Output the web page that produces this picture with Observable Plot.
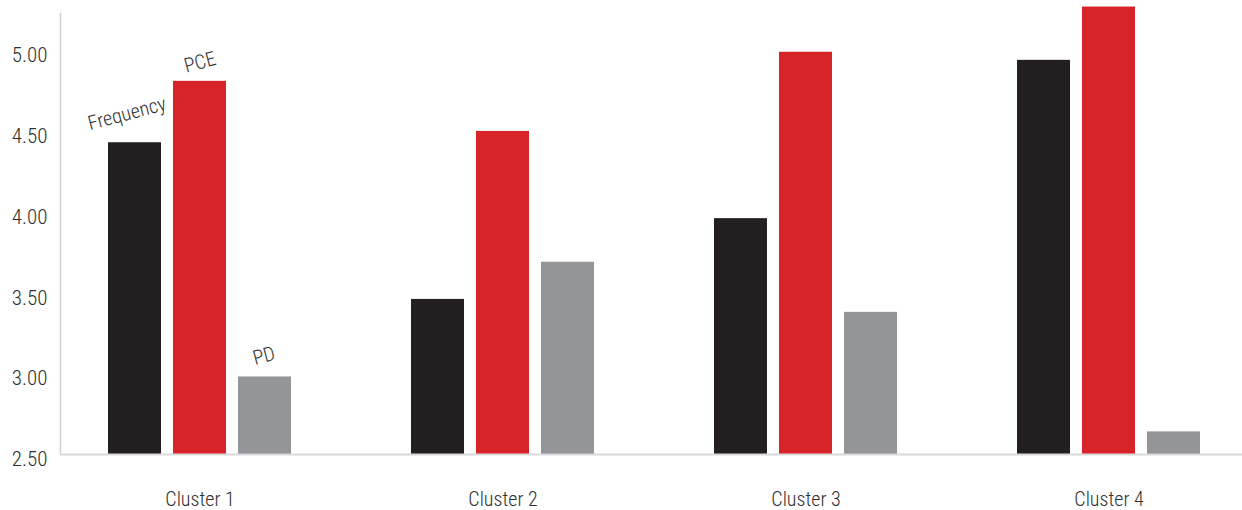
<!DOCTYPE html>
<html>
<head>
<meta charset="utf-8">
<script src="https://cdn.jsdelivr.net/npm/d3@7"></script>
<script src="https://cdn.jsdelivr.net/npm/@observablehq/plot@0.6"></script>
<style>
  html, body { margin: 0; padding: 0; background: #ffffff; }
  #chart { width: 1242px; height: 510px; }
</style>
</head>
<body>
<div id="chart"></div>
<script>
// ---- data ----
const clusters = ["Cluster 1", "Cluster 2", "Cluster 3", "Cluster 4"];
const seriesNames = ["Frequency", "PCE", "PD"];
const frequency = [4.43, 3.46, 3.96, 4.94];
const pce = [4.81, 4.50, 4.99, 5.27];
const pd = [2.98, 3.69, 3.38, 2.64];
const yTicks = [2.5, 3.0, 3.5, 4.0, 4.5, 5.0];
const yMin = 2.5;
const yMax = 5.23;

const colors = {Frequency: "#231f20", PCE: "#d62428", PD: "#939598"};
const valuesBySeries = {Frequency: frequency, PCE: pce, PD: pd};

const rows = [];
seriesNames.forEach(s => clusters.forEach((c, i) => rows.push({cluster: c, series: s, value: valuesBySeries[s][i]})));

// bar placement inside each cluster band (pixels)
const inset = {
  Frequency: {insetLeft: 0, insetRight: 130},
  PCE: {insetLeft: 65, insetRight: 65},
  PD: {insetLeft: 130, insetRight: 0}
};
const labelOffset = {
  Frequency: {dx: -73, dy: -29},
  PCE: {dx: 0, dy: -19},
  PD: {dx: 64, dy: -21}
};

const font = "'Liberation Sans Narrow', 'Arial Narrow', 'Roboto Condensed', Roboto, sans-serif";
const textColor = "#2f2f2f";

const marks = [];
seriesNames.forEach(s => {
  marks.push(Plot.barY(rows.filter(d => d.series === s), {
    x: "cluster", y1: () => yMin, y2: "value", fill: colors[s], ...inset[s]
  }));
});
seriesNames.forEach(s => {
  marks.push(Plot.text(rows.filter(d => d.series === s && d.cluster === clusters[0]), {
    x: "cluster", y: "value", text: "series", rotate: -15,
    fontSize: 20, fontWeight: 300, fill: textColor, ...labelOffset[s]
  }));
});
marks.push(Plot.frame({anchor: "left", stroke: "#d0d0d0", strokeWidth: 1.5}));
marks.push(Plot.ruleY([yMin], {stroke: "#d9d9d9", strokeWidth: 2}));
marks.push(Plot.axisY({ticks: yTicks, tickFormat: d3.format(".2f"), tickSize: 0, tickPadding: 13, dy: 5, fontSize: 21, fontWeight: 300, fill: textColor, label: null}));
marks.push(Plot.axisX({tickSize: 0, tickPadding: 37, fontSize: 20, fontWeight: 300, fill: textColor, label: null}));

const chart = Plot.plot({
  width: 1242,
  height: 510,
  marginLeft: 60,
  marginRight: 0,
  marginTop: 13,
  marginBottom: 56,
  style: {fontFamily: font, background: "#ffffff", color: textColor},
  x: {domain: clusters, paddingInner: 0.3974, paddingOuter: 0.1449, align: 0.534, axis: null},
  y: {domain: [yMin, yMax], axis: null},
  marks
});
document.getElementById("chart").appendChild(chart);
</script>
</body>
</html>
